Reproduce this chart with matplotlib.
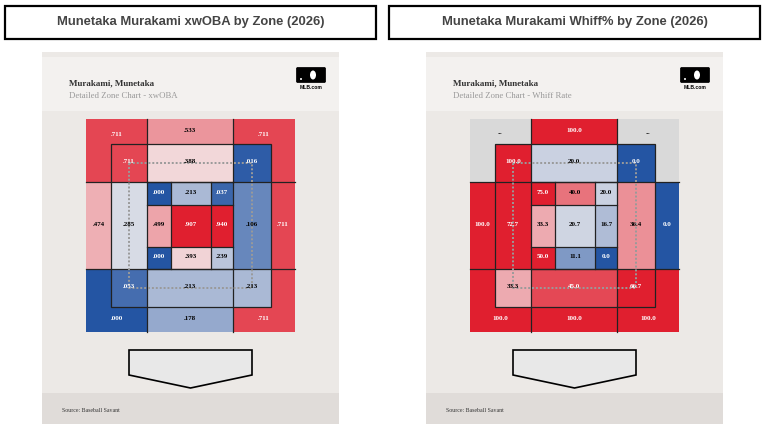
import numpy as np
import matplotlib
matplotlib.use("Agg")
import matplotlib.pyplot as plt
from matplotlib.patches import Rectangle, Polygon, FancyBboxPatch, Ellipse
from matplotlib.colors import LinearSegmentedColormap, TwoSlopeNorm

# --- data (order: outer TL,TM,TR,ML,MR,BL,BM,BR / shadow same / heart row by row) ---
player = "Munetaka Murakami"
player_rev = "Murakami, Munetaka"
season = 2026

xwoba_outer = [.711, .533, .711, .474, .711, .000, .178, .711]
xwoba_shadow = [.711, .388, .016, .285, .106, .053, .213, .213]
xwoba_heart = [.000, .213, .037, .499, .907, .940, .000, .393, .239]

whiff_outer = [np.nan, 100.0, np.nan, 100.0, 0.0, 100.0, 100.0, 100.0]
whiff_shadow = [100.0, 20.0, 0.0, 72.7, 36.4, 33.3, 45.0, 66.7]
whiff_heart = [75.0, 40.0, 20.0, 33.3, 20.7, 16.7, 50.0, 11.1, 0.0]

titles = [f"{player} xwOBA by Zone ({season})", f"{player} Whiff% by Zone ({season})"]
subtitles = ["Detailed Zone Chart - xwOBA", "Detailed Zone Chart - Whiff Rate"]

cmap = LinearSegmentedColormap.from_list("savant", ["#2455a3", "#f4f0f0", "#e01f2f"])
norms = [TwoSlopeNorm(vmin=0, vcenter=0.33, vmax=0.8), TwoSlopeNorm(vmin=0, vcenter=25, vmax=50)]
fmts = [lambda v: f"{v:.3f}".lstrip("0"), lambda v: f"{v:.1f}"]

# zone grid edges (pixels, left panel)
OX = [86, 147, 233, 295]
OY = [119, 182, 269, 332]
SX = [111, 147, 233, 271]
SY = [144, 182, 269, 307]
HX = [147, 171, 211, 233]
HY = [182, 205, 247, 269]
CELLS8 = [(0, 0), (0, 1), (0, 2), (1, 0), (1, 2), (2, 0), (2, 1), (2, 2)]

fig = plt.figure(figsize=(7.65, 4.33), dpi=100)
ax = fig.add_axes([0, 0, 1, 1])
ax.set_xlim(0, 765)
ax.set_ylim(433, 0)
ax.axis("off")

LINE = dict(color="#222222", lw=0.9, zorder=5)
SERIF = ["Liberation Serif", "DejaVu Serif"]


def fill_color(v, norm):
    if np.isnan(v):
        return "#d9d9d9"
    return cmap(norm(v))


def text_color(c):
    r, g, b = matplotlib.colors.to_rgb(c)
    lum = 0.299 * r + 0.587 * g + 0.114 * b
    return "white" if lum < 0.49 else "black"


def label(x, y, v, fmt, c):
    s = "--" if np.isnan(v) else fmt(v)
    ax.text(x, y, s, ha="center", va="center", fontsize=5.0, fontweight="bold",
            family=SERIF, color=text_color(c), zorder=8)


def panel(dx, title, subtitle, outer, shadow, heart, norm, fmt):
    # title box
    ax.add_patch(Rectangle((5 + dx, 6), 371, 33, facecolor="white", edgecolor="black", lw=1.6, zorder=1))
    ax.text(190.5 + dx, 22.5, title, ha="center", va="center", fontsize=9.4, fontweight="bold",
            family=["Liberation Sans", "DejaVu Sans"], color="#444444", zorder=2)

    # card
    ax.add_patch(Rectangle((42 + dx, 52), 297, 372, facecolor="#ece9e6", lw=0, zorder=1))
    ax.add_patch(Rectangle((42 + dx, 57), 297, 54, facecolor="#f3f1ef", lw=0, zorder=1))
    ax.add_patch(Rectangle((42 + dx, 393), 297, 31, facecolor="#e0dcd9", lw=0, zorder=1))
    ax.text(69 + dx, 83, player_rev, ha="left", va="center", fontsize=6.5, fontweight="bold",
            family=SERIF, color="#333333", zorder=2)
    ax.text(69 + dx, 95.5, subtitle, ha="left", va="center", fontsize=6.3,
            family=SERIF, color="#999999", zorder=2)
    ax.text(62 + dx, 411, "Source: Baseball Savant", ha="left", va="center", fontsize=4.2,
            family=SERIF, color="#333333", zorder=2)

    # MLB logo
    ax.add_patch(FancyBboxPatch((297 + dx, 68), 28, 14, boxstyle="round,pad=0.6,rounding_size=1.5",
                                facecolor="black", edgecolor="black", lw=0.5, zorder=2))
    ax.add_patch(Ellipse((313 + dx, 75), 6, 9, facecolor="white", lw=0, zorder=3))
    ax.add_patch(Ellipse((301 + dx, 79), 2, 2, facecolor="white", lw=0, zorder=3))
    ax.text(311 + dx, 87.5, "MLB.com", ha="center", va="center", fontsize=3.6, fontweight="bold",
            family=["Liberation Sans", "DejaVu Sans"], color="black", zorder=3)

    # outer cells
    for v, (r, c) in zip(outer, CELLS8):
        col = fill_color(v, norm)
        ax.add_patch(Rectangle((OX[c] + dx, OY[r]), OX[c + 1] - OX[c], OY[r + 1] - OY[r],
                               facecolor=col, lw=0, zorder=3))
        if r == 1:
            xs = (OX[0], SX[0]) if c == 0 else (SX[3], OX[3])
            ys = (OY[1], OY[2])
        else:
            xs = (OX[c], OX[c + 1])
            ys = (OY[0], SY[0]) if r == 0 else (SY[3], OY[3])
        yoff = 2.5 if (r == 0 and c != 1) else -1.5
        label(np.mean(xs) + dx, np.mean(ys) + yoff, v, fmt, col)

    # shadow cells
    for v, (r, c) in zip(shadow, CELLS8):
        col = fill_color(v, norm)
        ax.add_patch(Rectangle((SX[c] + dx, SY[r]), SX[c + 1] - SX[c], SY[r + 1] - SY[r],
                               facecolor=col, lw=0, zorder=4))
        label((SX[c] + SX[c + 1]) / 2 + dx, (SY[r] + SY[r + 1]) / 2 - 1.5, v, fmt, col)

    # heart cells
    for i, v in enumerate(heart):
        r, c = divmod(i, 3)
        col = fill_color(v, norm)
        ax.add_patch(Rectangle((HX[c] + dx, HY[r]), HX[c + 1] - HX[c], HY[r + 1] - HY[r],
                               facecolor=col, lw=0, zorder=4))
        label((HX[c] + HX[c + 1]) / 2 + dx, (HY[r] + HY[r + 1]) / 2 - 1.5, v, fmt, col)

    # grid lines
    for y in (OY[1], OY[2]):
        ax.plot([OX[0] + dx, OX[3] + dx], [y, y], **LINE)
    for x in (OX[1], OX[2]):
        ax.plot([x + dx, x + dx], [OY[0], OY[1]], **LINE)
        ax.plot([x + dx, x + dx], [OY[2], OY[3]], **LINE)
    ax.add_patch(Rectangle((SX[0] + dx, SY[0]), SX[3] - SX[0], SY[3] - SY[0],
                           facecolor="none", edgecolor="#222222", lw=0.9, zorder=5))
    for x in HX:
        ax.plot([x + dx, x + dx], [HY[0], HY[3]], **LINE)
    for y in HY:
        ax.plot([HX[0] + dx, HX[3] + dx], [y, y], **LINE)

    # dotted strike zone
    x0, x1 = (SX[0] + SX[1]) / 2 + dx, (SX[2] + SX[3]) / 2 + dx
    y0, y1 = (SY[0] + SY[1]) / 2, (SY[2] + SY[3]) / 2
    ax.plot([x0, x1, x1, x0, x0], [y0, y0, y1, y1, y0], color="#9a9a9a", lw=1.4,
            linestyle=(0, (1, 1)), zorder=6)

    # home plate
    plate = [(129 + dx, 350), (252 + dx, 350), (252 + dx, 375), (190.5 + dx, 388), (129 + dx, 375)]
    ax.add_patch(Polygon(plate, closed=True, facecolor="#e8e8e8", edgecolor="black", lw=1.2, zorder=3))


panel(0, titles[0], subtitles[0], xwoba_outer, xwoba_shadow, xwoba_heart, norms[0], fmts[0])
panel(384, titles[1], subtitles[1], whiff_outer, whiff_shadow, whiff_heart, norms[1], fmts[1])

fig.savefig("out.png", dpi=100, facecolor="white")
